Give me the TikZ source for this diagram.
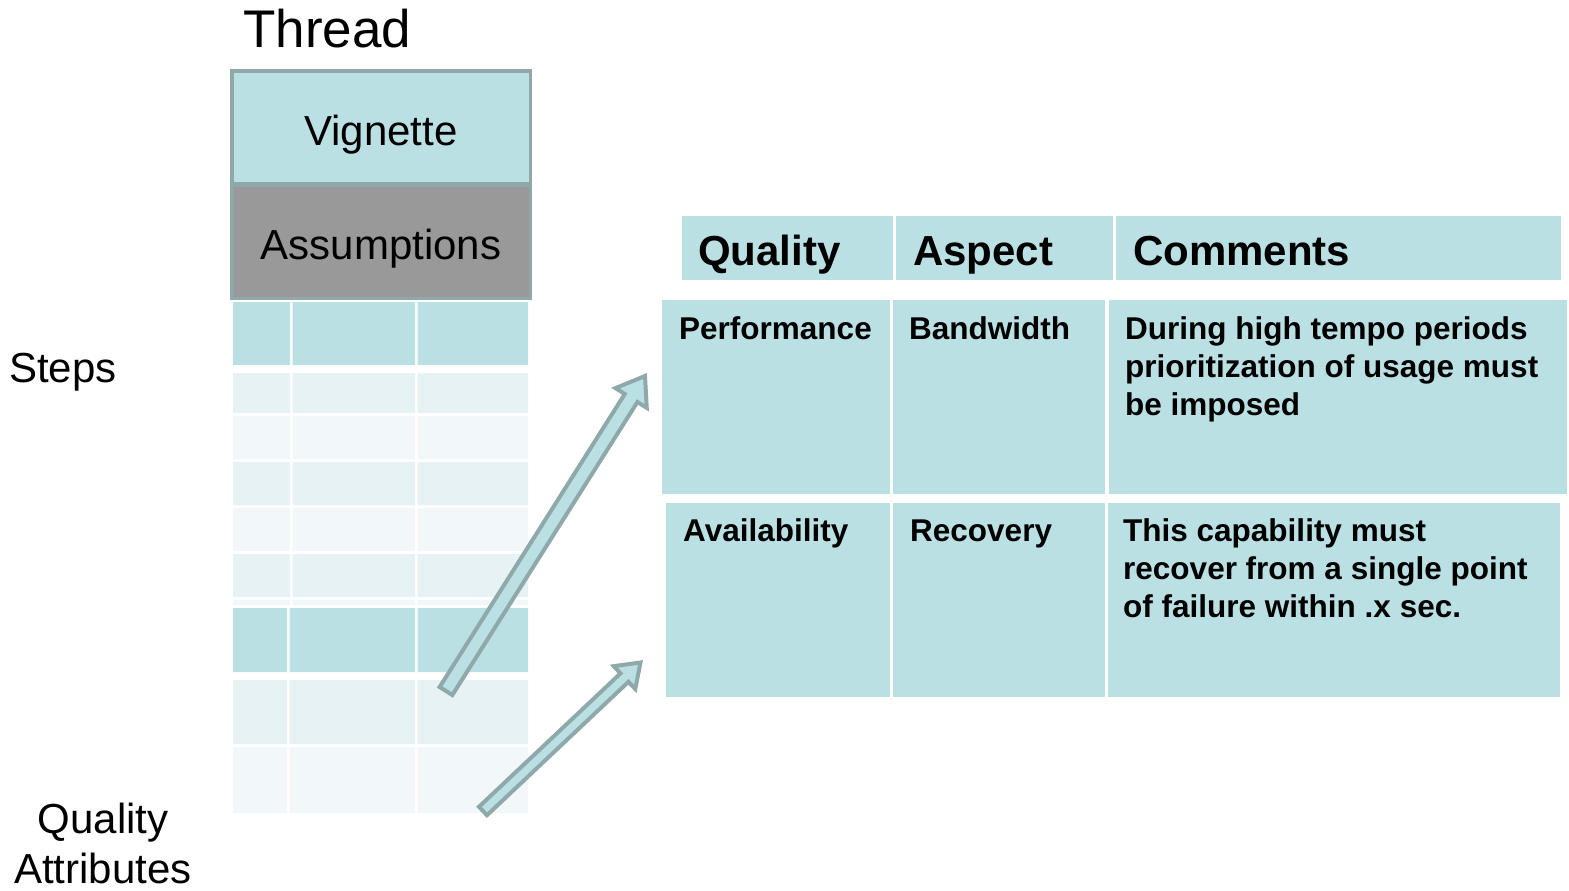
\documentclass[tikz,border=0pt]{standalone}
\usepackage{fontspec}
\setmainfont{Liberation Sans}
\usetikzlibrary{calc}
\usetikzlibrary{positioning}

\definecolor{cellteal}{RGB}{187,224,227}
\definecolor{framegray}{RGB}{143,169,171}
\definecolor{assumgray}{RGB}{153,153,153}
\definecolor{rowa}{RGB}{230,242,243}
\definecolor{rowb}{RGB}{242,248,250}

% hollow block arrow: tail, tip, half shaft, half head, head length
\newcommand{\qaarrow}[5]{%
  \coordinate (#2-neck) at ($(#2)!#5!(#1)$);
  \draw[blockarrow] ($(#1)!#3!90:(#2)$) -- ($(#2-neck)!#3!-90:(#1)$)
    -- ($(#2-neck)!#4!-90:(#1)$) -- (#2) -- ($(#2-neck)!#4!90:(#1)$)
    -- ($(#2-neck)!#3!90:(#1)$) -- ($(#1)!#3!-90:(#2)$) -- cycle;}

\begin{document}
\begin{tikzpicture}[x=1pt,y=-1pt,
    cell/.style={fill=cellteal,inner sep=0pt,anchor=north west},
    hdr/.style={font=\fontsize{42}{50}\selectfont\bfseries,anchor=base west,inner sep=0pt},
    txt/.style={font=\fontsize{31.5}{38}\selectfont\bfseries,inner sep=0pt,align=left},
    lbl/.style={font=\fontsize{42}{50}\selectfont,inner sep=0pt},
    blockarrow/.style={draw=framegray,fill=cellteal,line width=4pt,line join=miter}]
  \useasboundingbox (0,0) rectangle (1569,891);

  % thread column
  \node[lbl,font=\fontsize{53}{60}\selectfont,anchor=base west] (thread) at (243,48) {Thread};
  \node[fill=framegray,anchor=north west,inner sep=0pt,minimum width=302pt,minimum height=231pt] (frame) at (230,69) {};
  \node[fill=cellteal,anchor=north west,inner sep=0pt,minimum width=295pt,minimum height=109pt] (vign) at (234,73) {};
  \node[fill=assumgray,anchor=north west,inner sep=0pt,minimum width=295pt,minimum height=110pt] (assum) at (234,187) {};
  \node[lbl,anchor=base] (vign-t) at (381,145) {Vignette};
  \node[lbl,anchor=base] (assum-t) at (381,259) {Assumptions};

  \foreach \t/\b/\c/\xa in {302/365/cellteal/290, 373/413/rowa/290, 416/459/rowb/290,
      462/505/rowa/290, 508/551/rowb/290, 554/597/rowa/290, 600/605/rowb/290,
      608/672/cellteal/287, 680/744/rowa/287, 747/813/rowb/287}
    \fill[\c] (233,\t) rectangle (\xa,\b) (\xa+2.5,\t) rectangle (415,\b) (417.5,\t) rectangle (528,\b);

  \node[lbl,anchor=base west] (steps) at (9,382) {Steps};
  \node[lbl,align=center,anchor=north] (qattr) at (103,803) {Quality\\Attributes};

  % quality attribute table
  \node[cell,minimum width=211pt,minimum height=64pt] (hq) at (682,216) {};
  \node[cell,minimum width=217pt,minimum height=64pt] (ha) at (896,216) {};
  \node[cell,minimum width=445pt,minimum height=64pt] (hc) at (1116,216) {};
  \node[hdr] (hq-t) at (698,265) {Quality};
  \node[hdr] (ha-t) at (913,265) {Aspect};
  \node[hdr] (hc-t) at (1133,265) {Comments};

  \node[cell,minimum width=228pt,minimum height=194pt] (pq) at (662,300) {};
  \node[cell,minimum width=212pt,minimum height=194pt] (pa) at (893,300) {};
  \node[cell,minimum width=458pt,minimum height=194pt] (pc) at (1109,300) {};
  \node[txt,anchor=base west] (pq-t) at (679,339) {Performance};
  \node[txt,anchor=base west] (pa-t) at (909,339) {Bandwidth};
  \node[txt,anchor=north west] (pc-t) at (1125,316) {During high tempo periods\\prioritization of usage must\\be imposed};

  \node[cell,minimum width=224pt,minimum height=194pt] (aq) at (666,503) {};
  \node[cell,minimum width=212pt,minimum height=194pt] (aa) at (893,503) {};
  \node[cell,minimum width=452pt,minimum height=194pt] (ac) at (1108,503) {};
  \node[txt,anchor=base west] (aq-t) at (683,541) {Availability};
  \node[txt,anchor=base west] (aa-t) at (910,541) {Recovery};
  \node[txt,anchor=north west] (ac-t) at (1123,518) {This capability must\\recover from a single point\\of failure within .x sec.};

  % arrows into the table
  \coordinate (perf-tail) at (446,691);
  \coordinate (perf-tip) at (645,376);
  \qaarrow{perf-tail}{perf-tip}{7.5pt}{18.5pt}{26pt}
  \coordinate (avail-tail) at (483,811);
  \coordinate (avail-tip) at (640.5,662.5);
  \qaarrow{avail-tail}{avail-tip}{5.8pt}{15.7pt}{22pt}
\end{tikzpicture}
\end{document}
